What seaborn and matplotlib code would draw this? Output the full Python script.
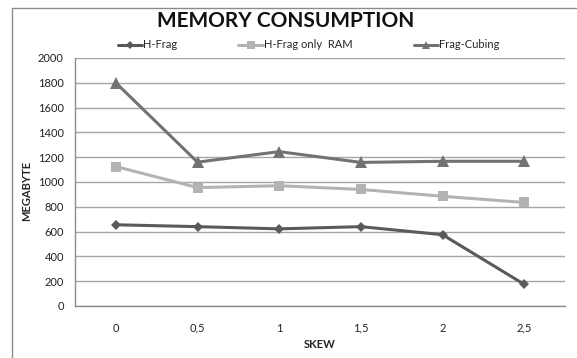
import matplotlib
matplotlib.use("Agg")
import matplotlib.pyplot as plt
from matplotlib.patches import Rectangle
from matplotlib.lines import Line2D
import seaborn as sns
import pandas as pd

skew_labels = ["0", "0,5", "1", "1,5", "2", "2,5"]
h_frag = [655, 640, 622, 640, 575, 175]
h_frag_ram = [1125, 955, 970, 940, 885, 835]
frag_cubing = [1800, 1160, 1245, 1158, 1167, 1167]
series_names = ["H-Frag", "H-Frag only  RAM", "Frag-Cubing"]

rows = []
for name, vals in zip(series_names, [h_frag, h_frag_ram, frag_cubing]):
    for i, v in enumerate(vals):
        rows.append({"pos": i, "value": v, "series": name})
df = pd.DataFrame(rows)

sns.set_style("white")
plt.rcParams["font.family"] = ["Lato", "DejaVu Sans"]

fig = plt.figure(figsize=(5.77, 3.58), dpi=100)
ax = fig.add_axes([75 / 577, 1 - 306 / 358, 490 / 577, 248 / 358])

palette = {"H-Frag": "#5a5a5a", "H-Frag only  RAM": "#b3b3b3", "Frag-Cubing": "#727272"}
markers = {"H-Frag": "D", "H-Frag only  RAM": "s", "Frag-Cubing": "^"}
sizes = {"H-Frag": 5, "H-Frag only  RAM": 7.5, "Frag-Cubing": 8}

sns.lineplot(data=df, x="pos", y="value", hue="series", style="series",
             palette=palette, markers=markers, dashes=False, linewidth=2.2,
             markersize=7, markeredgewidth=0, ax=ax, legend=False)
for line, name in zip(ax.get_lines(), series_names):
    line.set_markersize(sizes[name])

ax.set_xlim(-0.5, 5.5)
ax.set_ylim(0, 2000)
ax.set_yticks(range(0, 2001, 200))
ax.set_xticks(range(len(skew_labels)))
ax.set_xticklabels(skew_labels)
ax.yaxis.grid(True, color="#a6a6a6", linewidth=1)
ax.set_axisbelow(True)
for side in ["top", "right"]:
    ax.spines[side].set_visible(False)
for side in ["left", "bottom"]:
    ax.spines[side].set_color("#8c8c8c")
    ax.spines[side].set_linewidth(1)
ax.tick_params(axis="both", length=0, labelsize=8, colors="#222222")
ax.tick_params(axis="x", pad=12)
ax.tick_params(axis="y", pad=8)
ax.set_xlabel("SKEW", fontsize=8, fontweight="bold")
ax.set_ylabel("MEGABYTE", fontsize=8, fontweight="bold")
ax.xaxis.set_label_coords(0.5, -0.135)
ax.yaxis.set_label_coords(-0.088, 0.465)

handles = [Line2D([], [], color=palette[n], marker=markers[n], markersize=sizes[n] * 0.8,
                  markeredgewidth=0, linewidth=2.2) for n in series_names]
fig.legend(handles, series_names, loc="center", bbox_to_anchor=(0.535, 1 - 45 / 358),
           ncol=3, frameon=False, fontsize=8, handlelength=2.2, handletextpad=0.1,
           columnspacing=5.5)

fig.text(0.495, 1 - 21 / 358, "MEMORY CONSUMPTION", ha="center", va="center",
         fontsize=15, fontweight="bold", color="#111111")

fig.patches.append(Rectangle((12 / 577, -0.1), 1.2, 1 - 8 / 358 + 0.1,
                             transform=fig.transFigure, fill=False,
                             edgecolor="#8c8c8c", linewidth=1))

fig.savefig("out.png", dpi=100, facecolor="white")
